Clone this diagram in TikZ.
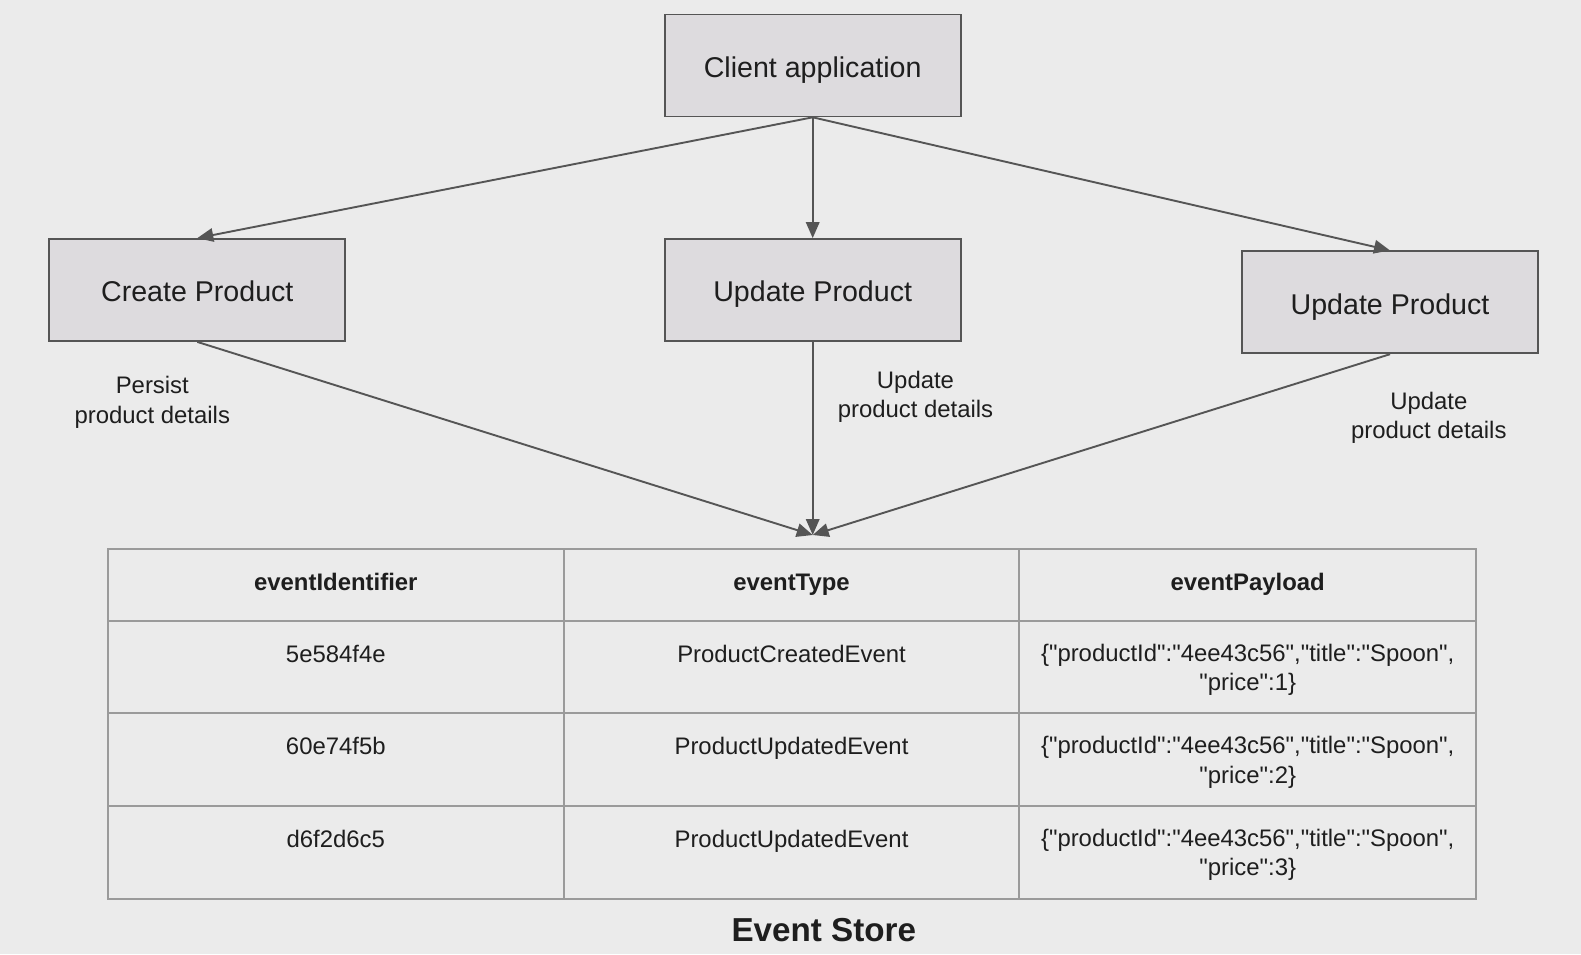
\documentclass[tikz,border=0pt]{standalone}
\usepackage{fontspec}
\setmainfont[Ligatures=TeXOff]{Liberation Sans}
\usetikzlibrary{arrows.meta}

\definecolor{bgcol}{HTML}{EBEBEB}
\definecolor{boxfill}{HTML}{DDDBDE}
\definecolor{edgecol}{HTML}{555555}
\definecolor{inkcol}{HTML}{1E1E1E}
\definecolor{gridcol}{HTML}{9A9A9A}

\tikzset{
  procbox/.style={draw=edgecol, fill=boxfill, line width=1.8pt,
    minimum width=296pt, minimum height=102pt, inner sep=0pt,
    text=inkcol, font={\fontsize{28.6}{34}\selectfont},
    text height=23.6pt, text depth=0pt},
  note/.style={inner sep=0pt, align=center, text=inkcol,
    font={\fontsize{23.9}{29.4}\selectfont}},
  cell/.style={inner sep=0pt, align=center, text=inkcol,
    font={\fontsize{23.9}{29.2}\selectfont}},
  linecell/.style={cell, text height=17.2pt, text depth=0pt},
  headcell/.style={linecell, font={\fontsize{23.9}{29.2}\selectfont\bfseries}},
  caption/.style={inner sep=0pt, text=inkcol,
    font={\fontsize{33.2}{40}\selectfont\bfseries},
    text height=23.9pt, text depth=0pt},
  flow/.style={draw=edgecol, line width=1.9pt,
    -{Triangle[length=16pt, width=13.5pt]}},
  gridline/.style={draw=gridcol, line width=2pt},
}

\begin{document}
\begin{tikzpicture}[x=1pt, y=-1pt]
  % canvas
  \fill[bgcol] (0,0) rectangle (1581,954);
  \useasboundingbox (0,0) rectangle (1581,954);

  % process boxes
  \node[procbox] (client) at (812.7,65.4)  {Client application};
  \node[procbox] (create) at (197.3,290)   {Create Product};
  \node[procbox] (updA)   at (812.7,290)   {Update Product};
  \node[procbox] (updB)   at (1390,302.3)  {Update Product};

  % edge labels
  \node[note] (lblCreate) at (152.3,402.5) {Persist\\product details};
  \node[note] (lblUpdA)   at (915.5,396.7) {Update\\product details};
  \node[note] (lblUpdB)   at (1428.8,417.9){Update\\product details};

  % point where the writes enter the store
  \coordinate (sink) at (812.7,535);

  % calls from the client
  \draw[flow] (client.south) -- (create.north);
  \draw[flow] (client.south) -- (updA.north);
  \draw[flow] (client.south) -- (updB.north);

  % writes into the event store
  \draw[flow] (create.south) -- (sink);
  \draw[flow] (updA.south) -- (sink);
  \draw[flow] (updB.south) -- (sink);

  % event store table grid
  \draw[gridline] (107.9,548.5) rectangle (1476,898.7);
  \foreach \yy in {620.6,713.3,806} \draw[gridline] (107.9,\yy) -- (1476,\yy);
  \foreach \xx in {563.6,1019.4} \draw[gridline] (\xx,548.5) -- (\xx,898.7);

  % header row
  \node[headcell] (hId)   at (335.8,581.8)  {eventIdentifier};
  \node[headcell] (hType) at (791.5,581.8)  {eventType};
  \node[headcell] (hPay)  at (1247.7,581.8) {eventPayload};

  % event rows
  \node[linecell] (id1)   at (335.8,653.4)  {5e584f4e};
  \node[linecell] (type1) at (791.5,653.4)  {ProductCreatedEvent};
  \node[cell]     (pay1)  at (1247.7,669.5) {\{"productId":"4ee43c56","title":"Spoon",\\"price":1\}};

  \node[linecell] (id2)   at (335.8,746.2)  {60e74f5b};
  \node[linecell] (type2) at (791.5,746.2)  {ProductUpdatedEvent};
  \node[cell]     (pay2)  at (1247.7,762.3) {\{"productId":"4ee43c56","title":"Spoon",\\"price":2\}};

  \node[linecell] (id3)   at (335.8,838.9)  {d6f2d6c5};
  \node[linecell] (type3) at (791.5,838.9)  {ProductUpdatedEvent};
  \node[cell]     (pay3)  at (1247.7,855)   {\{"productId":"4ee43c56","title":"Spoon",\\"price":3\}};

  % caption
  \node[caption] (storeTitle) at (823.8,929.7) {Event Store};
\end{tikzpicture}
\end{document}
